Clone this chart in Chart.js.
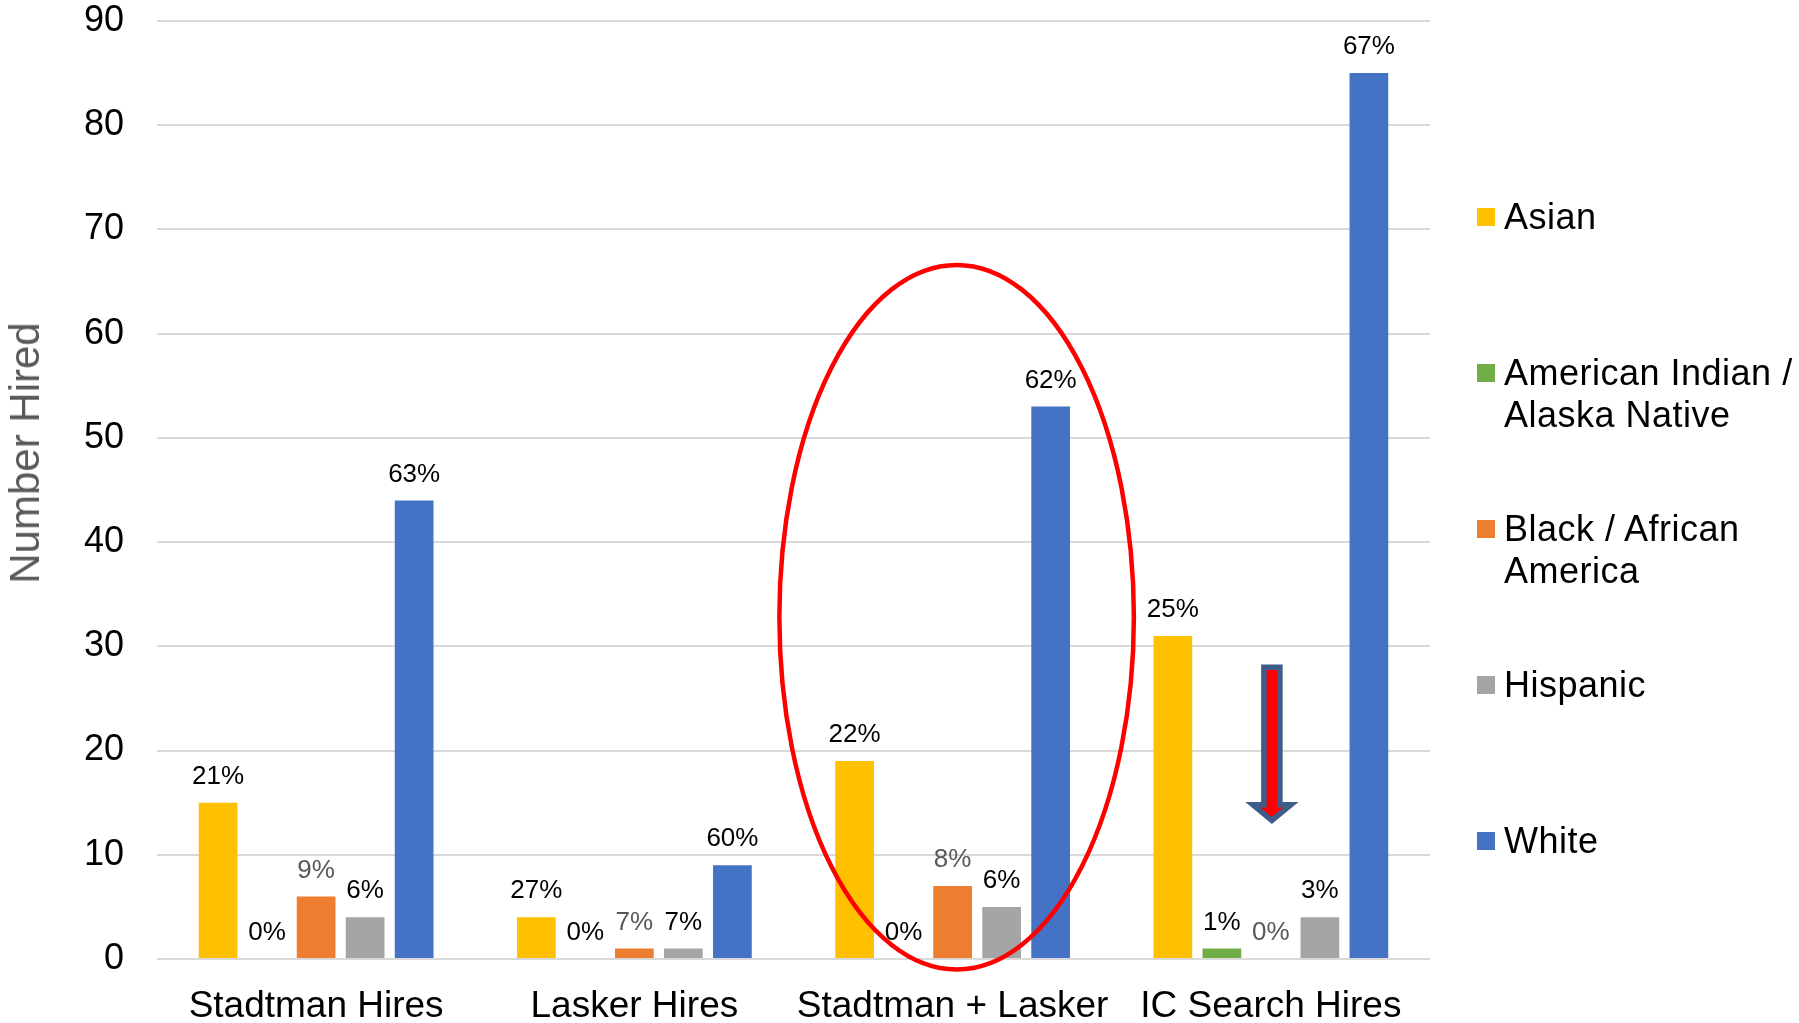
<!DOCTYPE html>
<html>
<head>
<meta charset="utf-8">
<script src="https://cdn.jsdelivr.net/npm/chart.js@4"></script>
<style>
  body { margin: 0; background: #fff; }
  #wrap { position: relative; width: 1799px; height: 1023px; font-family: "Liberation Sans", Arial, sans-serif; }
  #yTitle {
    position: absolute; left: 25px; top: 453px;
    transform: translate(-50%, -50%) rotate(-90deg);
    font-size: 42px; color: #595959; white-space: nowrap;
  }
  #legend { position: absolute; left: 1477px; top: 196px; }
  .item { position: relative; height: 156px; padding-left: 27px; font-size: 36px; line-height: 42px; color: #000; letter-spacing: 0.5px; }
  .item .box { position: absolute; left: 0; top: 12px; width: 18px; height: 18px; }
</style>
</head>
<body>
<div id="wrap">
  <canvas id="chart" width="1799" height="1023"></canvas>
  <div id="yTitle">Number Hired</div>
  <div id="legend"></div>
</div>
<script>
// --- data ---
const categories = ["Stadtman Hires", "Lasker Hires", "Stadtman + Lasker", "IC Search Hires"];

const asian = [15, 4, 19, 31];
const amIndian = [0, 0, 0, 1];
const black = [6, 1, 7, 0];
const hispanic = [4, 1, 5, 4];
const white = [44, 9, 53, 85];

const asianPct = ["21%", "27%", "22%", "25%"];
const amIndianPct = ["0%", "0%", "0%", "1%"];
const blackPct = ["9%", "7%", "8%", "0%"];
const hispanicPct = ["6%", "7%", "6%", "3%"];
const whitePct = ["63%", "60%", "62%", "67%"];

const seriesNames = [["Asian"], ["American Indian /", "Alaska Native"], ["Black / African", "America"], ["Hispanic"], ["White"]];
const colors = ["#FFC000", "#70AD47", "#ED7D31", "#A5A5A5", "#4472C4"];
const labelColors = ["#000", "#000", "#595959", "#000", "#000"];

const yMin = 0, yMax = 90, yStep = 10;

Chart.defaults.font.family = '"Liberation Sans", Arial, sans-serif';

const values = [asian, amIndian, black, hispanic, white];
const pcts = [asianPct, amIndianPct, blackPct, hispanicPct, whitePct];

// ---------- legend (html) ----------
const legend = document.getElementById("legend");
seriesNames.forEach((name, i) => {
  const d = document.createElement("div");
  d.className = "item";
  const b = document.createElement("span");
  b.className = "box";
  b.style.background = colors[i];
  d.appendChild(b);
  d.appendChild(document.createTextNode(name[0]));
  for (let k = 1; k < name.length; k++) {
    d.appendChild(document.createElement("br"));
    d.appendChild(document.createTextNode(name[k]));
  }
  legend.appendChild(d);
});

// ---------- percent labels over bars ----------
const pctLabels = {
  id: "pctLabels",
  afterDatasetsDraw(chart) {
    const ctx = chart.ctx;
    ctx.save();
    ctx.font = '26px "Liberation Sans", Arial, sans-serif';
    ctx.textAlign = "center";
    ctx.textBaseline = "middle";
    chart.data.datasets.forEach((ds, i) => {
      ctx.fillStyle = labelColors[i];
      chart.getDatasetMeta(i).data.forEach((bar, j) => {
        ctx.fillText(pcts[i][j], bar.x, bar.y - 26);
      });
    });
    ctx.restore();
  }
};

// ---------- red ellipse + arrow ----------
const marks = {
  id: "marks",
  afterDatasetsDraw(chart) {
    const { ctx, scales: { x, y } } = chart;
    const catW = x.width / categories.length;
    ctx.save();

    // ellipse round the Stadtman + Lasker group
    const cx = x.getPixelForValue(2) + 4;
    const cy = y.getPixelForValue(32.8);
    const rx = catW * 0.557;
    const ry = y.getPixelForValue(0) - y.getPixelForValue(33.8);
    ctx.beginPath();
    ctx.ellipse(cx, cy, rx, ry, 0, 0, Math.PI * 2);
    ctx.strokeStyle = "#FF0000";
    ctx.lineWidth = 4.5;
    ctx.stroke();

    // down arrow in the IC Search group
    const ax = x.getPixelForValue(3) + 1;
    const top = y.getPixelForValue(28);
    const headY = y.getPixelForValue(14.8);
    const tip = y.getPixelForValue(13.3);
    ctx.beginPath();
    ctx.moveTo(ax - 8, top);
    ctx.lineTo(ax + 8, top);
    ctx.lineTo(ax + 8, headY);
    ctx.lineTo(ax + 19, headY);
    ctx.lineTo(ax, tip);
    ctx.lineTo(ax - 19, headY);
    ctx.lineTo(ax - 8, headY);
    ctx.closePath();
    ctx.fillStyle = "#FF0000";
    ctx.fill();
    ctx.lineJoin = "miter";
    ctx.lineWidth = 5.5;
    ctx.strokeStyle = "#3E5C8A";
    ctx.stroke();
    ctx.restore();
  }
};

new Chart(document.getElementById("chart"), {
  type: "bar",
  data: {
    labels: categories,
    datasets: values.map((v, i) => ({
      label: seriesNames[i].join(" "),
      data: v,
      backgroundColor: colors[i],
      borderWidth: 0,
      categoryPercentage: 0.77,
      barPercentage: 0.79
    }))
  },
  options: {
    responsive: false,
    animation: false,
    devicePixelRatio: 1,
    layout: { padding: { top: 21, right: 369, bottom: 0, left: 0 } },
    plugins: { legend: { display: false }, tooltip: { enabled: false } },
    scales: {
      x: {
        grid: { display: false },
        border: { display: false },
        ticks: { color: "#000", font: { size: 37 }, padding: 18, maxRotation: 0, autoSkip: false },
        afterFit: (s) => { s.height = 64; s.paddingLeft = 0; s.paddingRight = 0; }
      },
      y: {
        min: yMin,
        max: yMax,
        ticks: { stepSize: yStep, color: "#000", font: { size: 36 }, padding: 33 },
        grid: { color: "#D9D9D9", lineWidth: 2, drawTicks: false },
        border: { display: false },
        afterFit: (s) => { s.width = 157; s.paddingTop = 0; s.paddingBottom = 0; }
      }
    }
  },
  plugins: [pctLabels, marks]
});
</script>
</body>
</html>
